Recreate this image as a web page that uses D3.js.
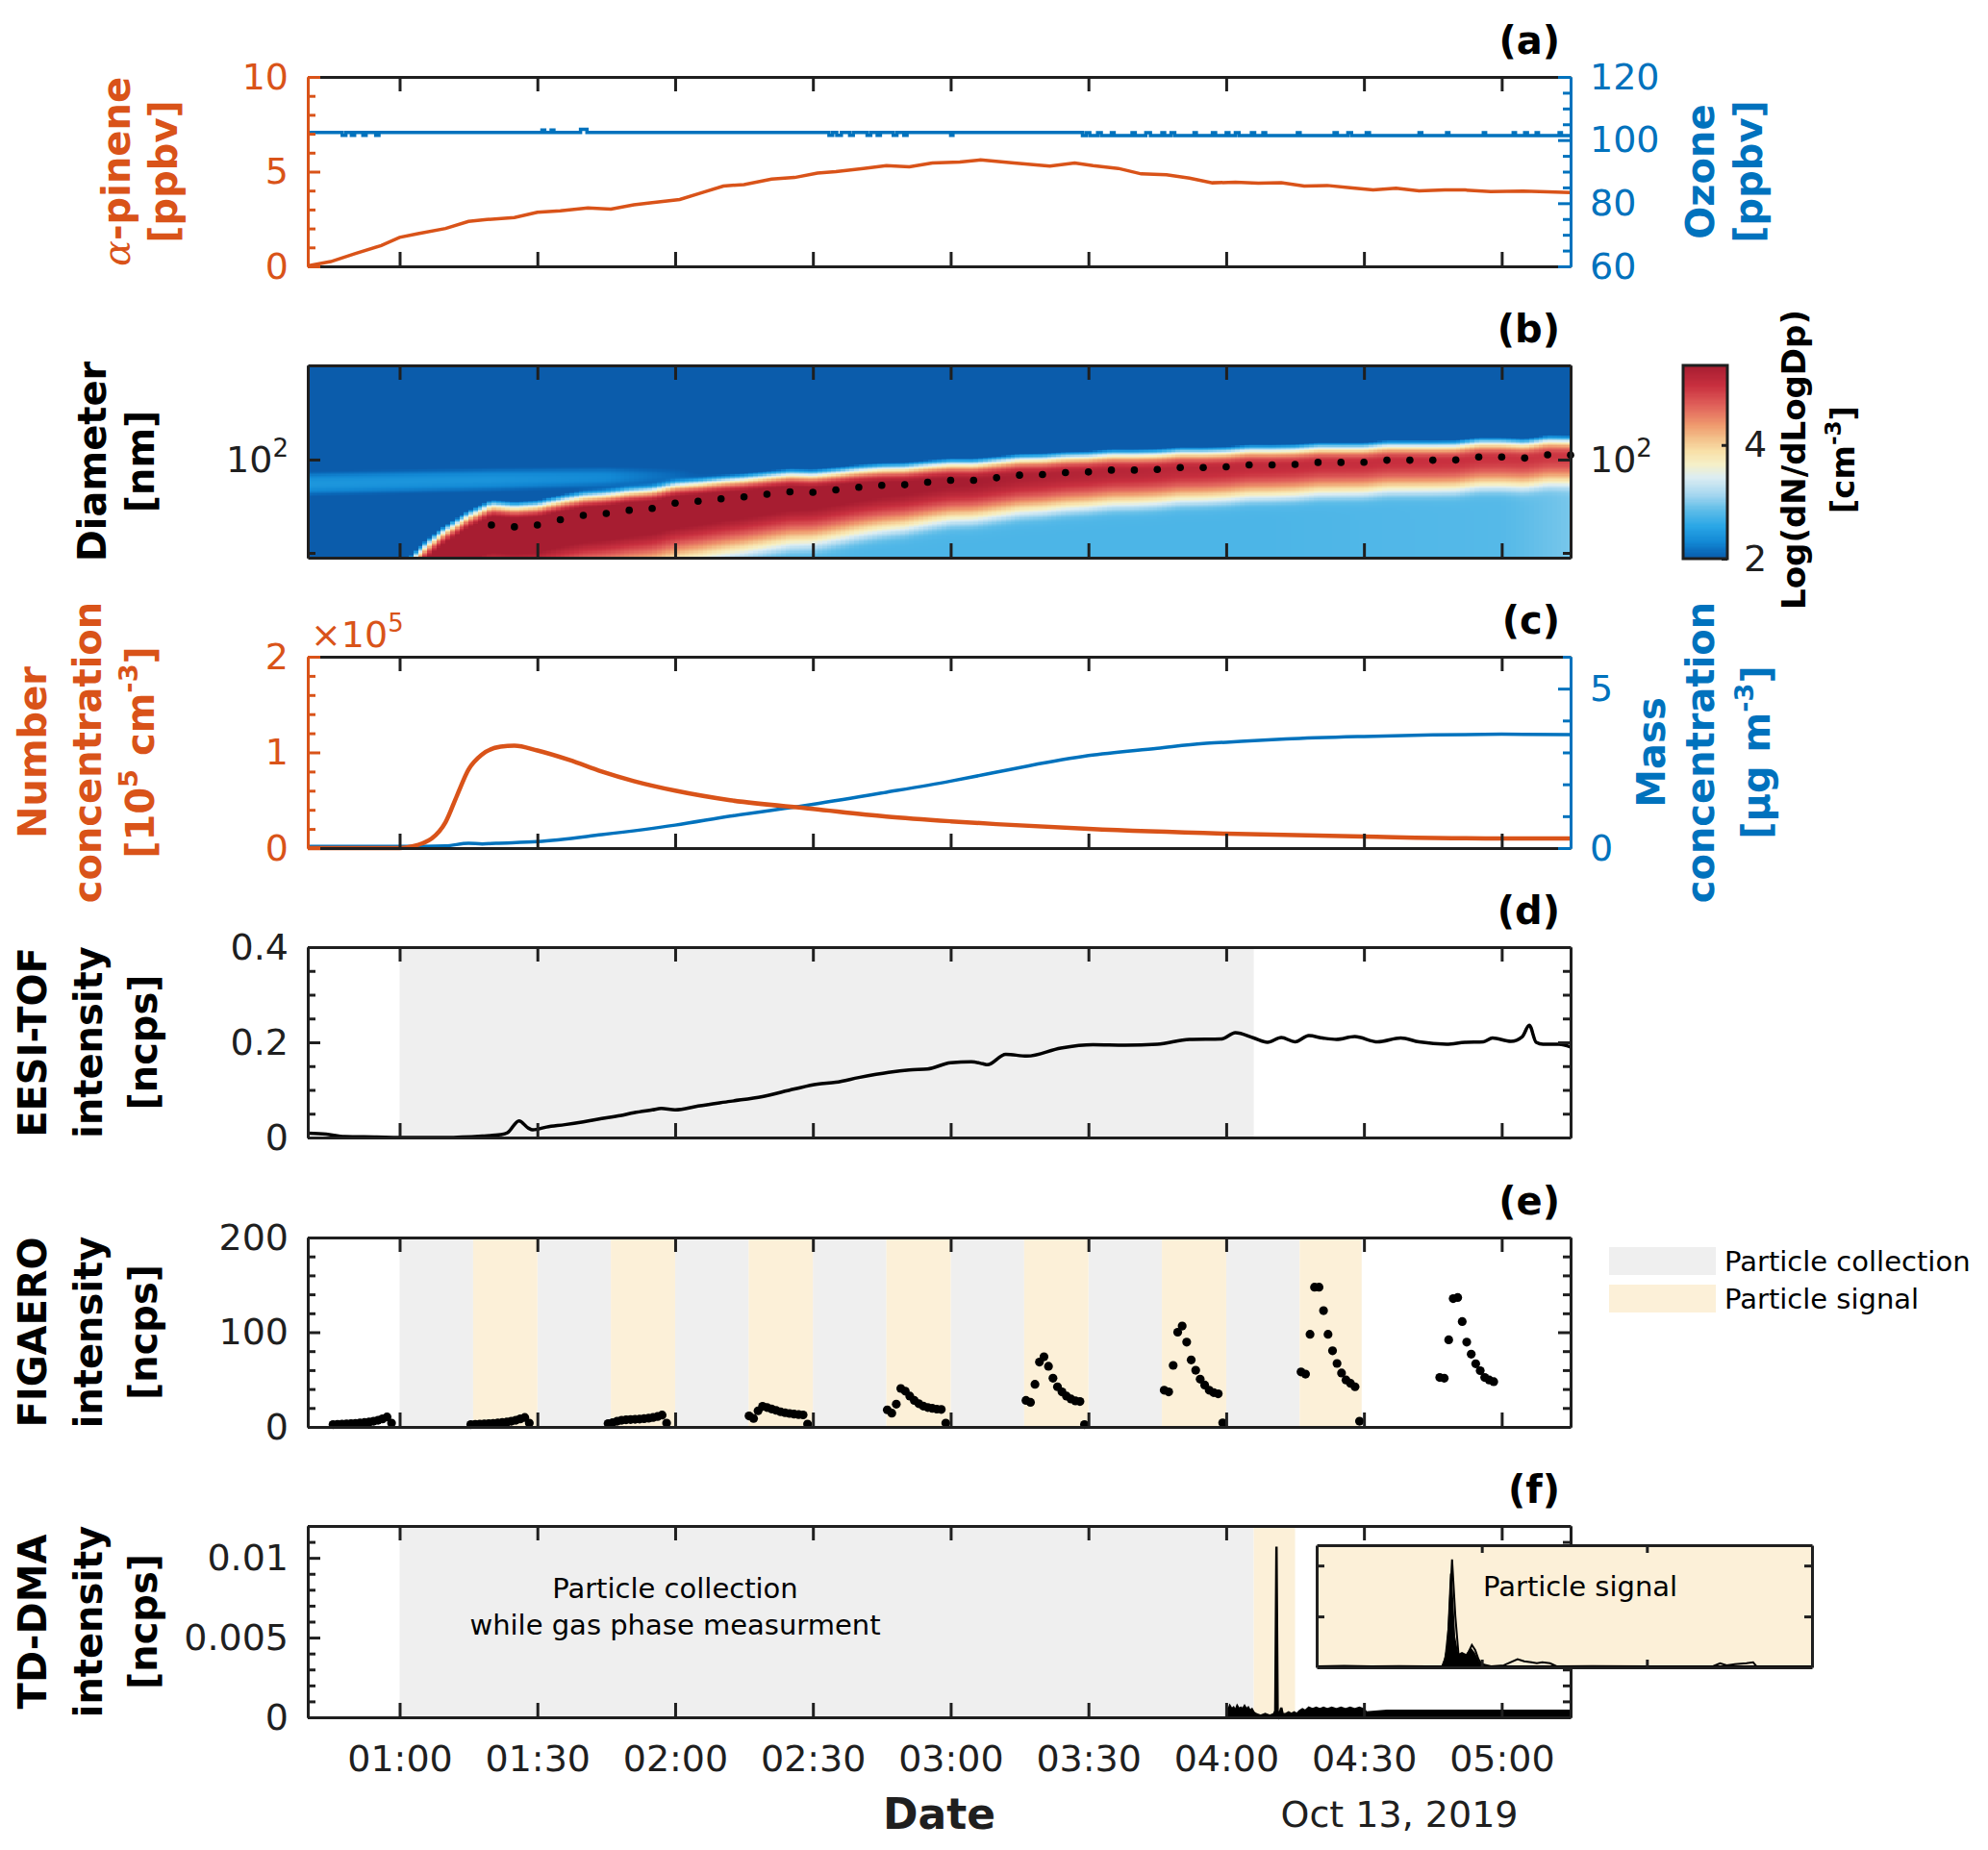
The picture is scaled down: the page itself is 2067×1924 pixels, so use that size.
<!DOCTYPE html>
<html>
<head>
<meta charset="utf-8">
<script src="https://cdn.jsdelivr.net/npm/d3@7"></script>
<style>
  body { margin: 0; background: #fff; }
  svg { display: block; }
</style>
</head>
<body>
<script>
// all times are minutes after midnight, 13 Oct 2019

// (a) alpha-pinene [ppbv] and ozone [ppbv]
const apinene = [[40,0.03],[45,0.25],[50.4,0.68],[56,1.1],[60,1.53],[64,1.73],[70,2.0],[75,2.37],[79,2.47],[85,2.58],
  [90,2.85],[95,2.93],[101,3.08],[106,3.02],[111,3.25],[115,3.36],[121,3.53],[126,3.9],[130.5,4.24],[135,4.32],
  [141,4.61],[146,4.69],[151,4.92],[155,5.0],[161,5.17],[166,5.32],[171,5.25],[176,5.46],[182,5.51],[186.5,5.62],
  [193.8,5.46],[201.6,5.29],[207,5.46],[211,5.32],[216.5,5.17],[221.5,4.88],[227,4.83],[232,4.66],[237,4.41],[242,4.44],
  [247,4.39],[252,4.42],[257,4.24],[262,4.27],[267,4.15],[272,4.03],[277,4.12],[282,3.98],[287.6,4.03],[292,4.03],
  [297.6,3.95],[304.7,3.97],[310,3.93],[315,3.9]];
const ozone = [[40,102.4],[47.5,101.5],[48.3,102.4],[49.5,101.5],[50.2,102.4],[52,101.5],[52.7,102.4],[54.8,101.5],[55.5,102.4],
  [91,103.2],[91.6,102.4],[93,103.2],[93.6,102.4],[99.4,103.4],[100.8,102.4],
  [153.5,101.5],[154.3,102.4],[155.2,101.5],[156.2,102.4],[158,101.5],[158.8,102.4],[161.8,101.5],[162.6,102.4],
  [164,101.5],[164.7,102.4],[167.5,101.5],[168.3,102.4],[169.8,101.5],[170.5,102.4],[180,101.5],[180.5,102.4],
  [208.7,101.4],[209.5,102.3],[210.3,101.4],[212,102.3],[212.8,101.4],[215,102.3],[215.6,101.4],[219.5,102.3],
  [220.2,101.4],[222.5,102.3],[223.5,101.4],[226,102.3],[226.6,101.4],[228,102.3],[228.8,101.4],[233,102.3],
  [233.5,101.4],[237,102.3],[237.7,101.4],[240,102.3],[240.6,101.4],[242,102.3],[242.8,101.4],[245.5,102.3],
  [246.2,101.4],[248,102.3],[248.6,101.4],[255.5,102.3],[256.1,101.4],[263.5,102.3],[264.2,101.4],[266.5,102.3],
  [267.3,101.4],[270.5,102.3],[271.2,101.4],[282,102.3],[282.6,101.4],[288,102.3],[288.5,101.4],[296,102.3],
  [296.5,101.4],[302.5,102.3],[303,101.4],[305,102.3],[305.6,101.4],[307.5,102.3],[308,101.4],[312.5,102.3],
  [313,101.4],[315,101.4]];

const modeDots = [[80,43.0],[85,42.0],[90,43.0],[95,46.0],[100,48.7],[105,49.9],[110,52.0],[115,53.3],[120,57.0],
  [125,58.4],[130,60.3],[135,61.8],[140,63.9],[145,66.0],[150,65.5],[155,67.6],[160,70.0],[165,71.7],[170,72.3],
  [175,74.7],[180,76.6],[185,76.6],[190,79.1],[195,81.8],[200,82.4],[205,84.5],[210,85.2],[215,87.3],[220,87.3],
  [225,88.0],[230,90.2],[235,90.2],[240,91.0],[245,93.3],[250,93.3],[255,94.0],[260,96.4],[265,96.4],[270,96.5],
  [275,99.2],[280,99.2],[285,99.2],[290,99.5],[295,103.4],[300,103.4],[305,102.0],[310,106.4],[315,106.0]];
const bandLead = [[58,19],[62,21],[66,26],[70,31],[75,37.5]];           // band centre before first marker [nm]
const bandPeak = [[57,1.0],[60,4.0],[63,5.4],[68,5.8],[80,5.9],[110,5.85],[140,5.7],[170,5.5],[200,5.3],
  [230,5.18],[260,5.1],[290,5.05],[315,5.0]];                            // log10 dN/dlogDp at band core
const bandLowWidth = [[60,0.09],[90,0.1],[120,0.1],[150,0.088],[180,0.072],[210,0.066],[240,0.062],[270,0.06],[315,0.058]];
const bandUpWidth = [[60,0.035],[120,0.032],[315,0.03]];
const smallModeLevel = [[95,1.0],[110,2.2],[125,2.6],[150,2.75],[250,2.75],[300,2.8],[315,2.95]];
const faintLevel = [[40,2.38],[80,2.35],[105,2.25],[120,2.0],[135,1.5]];
const faintCentre = [[40,74],[150,85]];
const psdBackground = 1.5;
const cbarStops = [2.0,2.1,2.3,2.58,2.86,3.15,3.44,3.67,3.9,4.13,4.36,4.71,5.05,5.4];
const cbarColors = ['#0b5cab','#0a66b6','#1288d4','#29a6e6','#5cbce8','#a8d8f0','#dcedf2','#f5f0c8',
  '#f8e0a8','#f3c08a','#ef9a6e','#e0605a','#c9303f','#a71d31'];

// (c) number concentration [1e5 cm-3] and mass concentration [ug m-3]
const numberConc = [[40,0],[60,0],[63,0.02],[65,0.05],[67,0.1],[70,0.27],[72.5,0.55],[75,0.82],[78,0.98],[82,1.06],
  [85,1.07],[90,1.02],[97,0.92],[104,0.8],[111,0.7],[120,0.6],[132,0.5],[150,0.41],[166,0.33],[180,0.28],
  [190,0.25],[210,0.2],[240,0.15],[270,0.12],[300,0.1],[315,0.1]];
const massConc = [[40,0.05],[60,0.05],[70,0.07],[75,0.15],[78,0.13],[81,0.15],[90,0.2],[104,0.42],[120,0.72],
  [132,1.0],[150,1.37],[166,1.75],[180,2.1],[190,2.38],[197,2.58],[210,2.9],[225,3.13],[235,3.28],[240,3.32],
  [253,3.42],[270,3.5],[285,3.55],[300,3.57],[315,3.56]];

// (d) EESI-TOF intensity [ncps]
const eesi = [[40,0.009],[44,0.007],[48,0.002],[55,0.001],[60,0],[70,0],[78,0.003],[82,0.006],[83.5,0.01],[86,0.035],
  [88,0.02],[89,0.016],[92,0.022],[96,0.027],[100,0.033],[104,0.04],[108,0.046],[111,0.052],[115,0.058],[117,0.061],
  [120,0.058],[125,0.066],[132,0.076],[139,0.086],[146,0.102],[151,0.112],[155,0.116],[160,0.126],[166.5,0.137],
  [171,0.142],[175,0.144],[180,0.157],[184.5,0.159],[187,0.155],[188,0.153],[192,0.175],[196.6,0.171],[204,0.188],
  [211,0.195],[218,0.194],[225,0.196],[232,0.206],[239,0.207],[242,0.22],[246,0.209],[249,0.2],[252,0.21],
  [255,0.201],[258,0.214],[261,0.209],[264,0.206],[268,0.212],[273,0.201],[278,0.209],[282,0.201],[288,0.196],
  [292,0.2],[296,0.201],[298,0.209],[302,0.202],[304.5,0.212],[306,0.236],[307.5,0.2],[309,0.196],[312.5,0.196],[315,0.19]];
const eesiCollection = [[60,246]];

// (e) FIGAERO intensity [ncps], one reading per ~1 min in each desorption
const figStep = 0.98;
const figStart = [45.5, 75.5, 105.4, 136.1, 166.2, 196.4, 226.5, 256.3, 286.5];
const figValues = [
  [2.5,2.7,3,3.2,3.5,3.8,4.2,4.6,5.2,6,7,8.5,10.5,4],
  [2.5,2.7,3,3.2,3.5,3.8,4.2,4.6,5.2,6,7,8.5,10,4],
  [3.5,4.5,6,7,7.5,7.8,8,8.3,8.7,9.2,10,11,12.5,4],
  [11.6,9,17,21.7,20.5,19,17.5,16,15,14.2,13.5,13,12.7,3],
  [18,14.5,24,40.6,37.7,32.6,28,24.5,22,20.5,19.6,18.8,18.5,4],
  [28,26,45,68.5,74,64,51.4,42.4,37,32.6,29.5,27.5,26.8,2.5],
  [38.8,37,65,100,106.5,89.5,70.7,59.8,50.4,44.2,38.8,36.2,35,4.3],
  [58,55.8,97.8,147.5,147.5,122.8,97.8,80.4,67,56.9,49.6,46,42.4,6],
  [52.2,51.4,92,135.5,136.6,111.2,89.5,76.8,66.7,59.4,52.2,49.6,47.8]];
const figCollection = [[60,76],[90,106],[120,136],[150,166],[180,196],[210,226],[240,256]];
const figSignal = [[76,90],[106,120],[136,150],[166,180],[196,210],[226,240],[256,269.5]];
const legendItems = ['Particle collection', 'Particle signal'];

// (f) TD-DMA intensity [ncps]
const tdCollection = [[60,246]];
const tdSignal = [[246,255]];
const tdDma = [[240,0.0006],[240.4,0.0004],[240.8,0.0007],[241.2,0.0005],[241.6,0.0006],[242,0.0004],[242.4,0.0007],
  [242.8,0.0005],[243.2,0.0006],[243.6,0.0005],[244,0.0007],[244.4,0.0005],[244.8,0.0006],[245.2,0.0004],[245.6,0.0005],
  [246,0.0003],[246.5,0.0002],[247.5,0.0001],[248.5,0.0002],[249.5,0.0001],[250.4,0.0002],[250.7,0.0004],[250.95,0.0107],
  [251.2,0.0004],[251.5,0.0001],[252,0.0006],[252.3,0.0002],[253,0.0002],[253.6,0.0003],[254.2,0.0002],[254.8,0.0003],
  [255.4,0.0002],[256,0.0004],[256.6,0.0005],[257.2,0.0004],[258,0.0006],[258.8,0.0005],[259.6,0.0006],[260.4,0.0005],
  [261.2,0.0006],[262,0.0005],[263,0.0006],[264,0.0005],[265,0.0006],[266,0.0005],[267,0.0006],[268,0.0005],
  [269,0.0006],[270,0.0005],[270.5,0.0003],[275,0.0004],[285,0.0004],[295,0.0004],[305,0.0004],[315,0.0004]];
// inset: zoom on the desorption signal (minutes into the signal window)
const insetTraceA = [[0,0.0001],[0.5,0.00015],[1,0.0001],[1.5,0.00012],[2,0.0001],[2.28,0.0001],[2.34,0.0009],
  [2.40,0.004],[2.46,0.0106],[2.52,0.005],[2.58,0.0011],[2.64,0.0007],[2.7,0.0009],[2.76,0.0015],[2.82,0.0022],
  [2.88,0.0017],[2.94,0.0008],[3.0,0.0003],[3.17,0.0001],[3.4,0.0002],[3.65,0.0008],[3.77,0.0006],[3.9,0.0005],
  [4.0,0.0004],[4.1,0.0005],[4.24,0.0004],[4.36,0.0001],[5,0.00012],[6,0.0001],[7.2,0.0001],[7.33,0.0004],
  [7.45,0.0002],[7.6,0.0003],[7.81,0.0004],[7.93,0.0005],[7.99,0.0001],[8.5,0.0001],[9,0.0001]];
const insetTraceB = [[0,0.0001],[2.3,0.0001],[2.38,0.002],[2.44,0.0092],[2.5,0.003],[2.56,0.0012],[2.64,0.0014],
  [2.72,0.0012],[2.8,0.0018],[2.86,0.0014],[2.95,0.0004],[3.1,0.0001],[9,0.0001]];

// ---- layout ----
const ORANGE = '#D95319', BLUE = '#0072BD', INK = '#1f1f1f', GREY = '#efefef', CREAM = '#fcf0d8';
const FONT = '"DejaVu Sans", Verdana, sans-serif';
const X0 = 320, X1 = 1633;
const P = { a: [80, 277], b: [380, 580], c: [683, 882], d: [985, 1183], e: [1287, 1484], f: [1587, 1786] };

const svg = d3.select('body').append('svg').attr('width', 2067).attr('height', 1924)
  .style('font-family', FONT);

const T = m => new Date(Date.UTC(2019, 9, 13) + m * 60000);
const x = d3.scaleUtc().domain([T(40), T(315)]).range([X0, X1]);
const timeTicks = x.ticks(d3.utcMinute.every(30));
const range = (a, b, s) => d3.range(a, b + s / 2, s).map(v => +v.toFixed(6));

function rich(t, parts, size) {
  if (typeof parts === 'string') parts = [[parts]];
  let shift = 0;
  parts.forEach(([s, kind]) => {
    const ts = t.append('tspan').text(s);
    const want = kind === 'sup' ? -0.42 * size : 0;
    if (want !== shift) { ts.attr('dy', want - shift); shift = want; }
    if (kind === 'sup') ts.attr('font-size', size * 0.68);
    if (kind === 'it') ts.attr('font-family', '"DejaVu Serif", serif').attr('font-style', 'italic').attr('font-weight', 'normal');
  });
}

function yLabel(lines, cy, color, size = 40) {
  lines.forEach(([bx, parts]) => {
    const t = svg.append('text').attr('transform', `translate(${bx},${cy}) rotate(-90)`)
      .attr('text-anchor', 'middle').attr('font-weight', 'bold').attr('font-size', size).attr('fill', color);
    rich(t, parts, size);
  });
}

function timeFrame(top, bottom, withLabels) {
  const gb = svg.append('g').attr('transform', `translate(0,${bottom})`)
    .call(d3.axisBottom(x).tickValues(timeTicks).tickSizeInner(-15).tickSizeOuter(0).tickPadding(29)
      .tickFormat(withLabels ? d3.utcFormat('%H:%M') : () => ''));
  const gt = svg.append('g').attr('transform', `translate(0,${top})`)
    .call(d3.axisTop(x).tickValues(timeTicks).tickSizeInner(-15).tickSizeOuter(0).tickFormat(() => ''));
  [gb, gt].forEach(g => {
    g.selectAll('path, line').attr('stroke', INK).attr('stroke-width', 3);
    g.selectAll('text').attr('font-size', 38).attr('font-family', FONT).attr('fill', INK);
  });
}

function yAxis(scale, xpos, side, majors, minors, color, fmt) {
  const mk = side === 'left' ? d3.axisLeft : d3.axisRight;
  const g = svg.append('g').attr('transform', `translate(${xpos},0)`);
  if (minors.length) g.append('g').call(mk(scale).tickValues(minors).tickSizeInner(-8).tickSizeOuter(0).tickFormat(() => ''));
  g.append('g').call(mk(scale).tickValues(majors).tickSizeInner(-13).tickSizeOuter(0).tickPadding(20)
    .tickFormat(fmt || (() => '')));
  g.selectAll('path, line').attr('stroke', color).attr('stroke-width', 3);
  g.selectAll('text').attr('font-size', 38).attr('font-family', FONT).attr('fill', color);
  return g;
}

function panelTag(tag, top) {
  svg.append('text').attr('x', 1622).attr('y', top - 24).attr('text-anchor', 'end')
    .attr('font-size', 40).attr('font-weight', 'bold').attr('fill', '#000').text(tag);
}

function shade(spans, y, fill) {
  svg.append('g').selectAll('rect').data(spans).join('rect')
    .attr('x', d => x(T(d[0]))).attr('width', d => x(T(d[1])) - x(T(d[0])))
    .attr('y', y.range()[1]).attr('height', y.range()[0] - y.range()[1]).attr('fill', fill);
}

const fmtNum = d => String(d);

// ---------- (a) ----------
const yA = d3.scaleLinear().domain([0, 10]).range(P.a.slice().reverse());
const yO = d3.scaleLinear().domain([60, 120]).range(P.a.slice().reverse());
svg.append('path').datum(ozone).attr('fill', 'none').attr('stroke', BLUE).attr('stroke-width', 3.5)
  .attr('d', d3.line().curve(d3.curveStepAfter).x(d => x(T(d[0]))).y(d => yO(d[1])));
svg.append('path').datum(apinene).attr('fill', 'none').attr('stroke', ORANGE).attr('stroke-width', 3.5)
  .attr('d', d3.line().x(d => x(T(d[0]))).y(d => yA(d[1])));
timeFrame(P.a[0], P.a[1], false);
yAxis(yA, X0, 'left', [0, 5, 10], range(1, 9, 1).filter(v => v !== 5), ORANGE, fmtNum);
yAxis(yO, X1, 'right', [60, 80, 100, 120], range(65, 115, 5).filter(v => v % 20 !== 0), BLUE, fmtNum);
yLabel([[135, [['α', 'it'], ['-pinene']]], [184, '[ppbv]']], (P.a[0] + P.a[1]) / 2, ORANGE);
yLabel([[1782, 'Ozone'], [1832, '[ppbv]']], (P.a[0] + P.a[1]) / 2, BLUE);
panelTag('(a)', P.a[0]);

// ---------- (b) ----------
const yB = d3.scaleLog().domain([28.2, 337]).range(P.b.slice().reverse());
const color = d3.scaleLinear().domain(cbarStops).range(cbarColors).clamp(true);
const lin = arr => d3.scaleLinear().domain(arr.map(d => d[0])).range(arr.map(d => d[1])).clamp(true);
const modeAll = bandLead.concat(modeDots);
const modeLog = d3.scaleLinear().domain(modeAll.map(d => d[0])).range(modeAll.map(d => Math.log10(d[1]))).clamp(true);
const peakAt = lin(bandPeak), lowWAt = lin(bandLowWidth), upWAt = lin(bandUpWidth);
const smallAt = lin(smallModeLevel), faintAt = lin(faintLevel);
const faintCAt = d3.scaleLinear().domain(faintCentre.map(d => d[0])).range(faintCentre.map(d => Math.log10(d[1]))).clamp(true);

function psdValue(tm, ld) {
  const mu = modeLog(tm);
  const s = ld >= mu ? upWAt(tm) : lowWAt(tm);
  const band = Math.pow(10, peakAt(tm) - 0.4343 * (ld - mu) ** 2 / (2 * s * s));
  const lowF = ld < mu ? 1 : Math.exp(-((ld - mu) ** 2) / (2 * 0.02 * 0.02));
  const small = Math.pow(10, smallAt(tm)) * lowF;
  const fc = faintCAt(tm);
  const faint = Math.pow(10, faintAt(tm) - 0.4343 * (ld - fc) ** 2 / (2 * 0.045 * 0.045));
  return Math.log10(band + small + faint + Math.pow(10, psdBackground));
}

const [lgMin, lgMax] = yB.domain().map(Math.log10);
const nRows = 160, dl = (lgMax - lgMin) / nRows;
const cells = [];
for (let i = 0; i < 275; i++) {
  for (let j = 0; j < nRows; j++) {
    cells.push({ t0: 40 + i, l0: lgMin + j * dl, v: psdValue(40 + i + 0.5, lgMin + (j + 0.5) * dl) });
  }
}
svg.append('clipPath').attr('id', 'clipB').append('rect')
  .attr('x', X0).attr('y', P.b[0]).attr('width', X1 - X0).attr('height', P.b[1] - P.b[0]);
svg.append('g').attr('clip-path', 'url(#clipB)').attr('shape-rendering', 'crispEdges')
  .selectAll('rect').data(cells).join('rect')
  .attr('x', d => x(T(d.t0))).attr('width', d => x(T(d.t0 + 1)) - x(T(d.t0)) + 0.8)
  .attr('y', d => yB(Math.pow(10, d.l0 + dl)))
  .attr('height', d => yB(Math.pow(10, d.l0)) - yB(Math.pow(10, d.l0 + dl)) + 0.8)
  .attr('fill', d => color(d.v));
svg.append('g').selectAll('circle').data(modeDots).join('circle')
  .attr('cx', d => x(T(d[0]))).attr('cy', d => yB(d[1])).attr('r', 3.8).attr('fill', '#000');
timeFrame(P.b[0], P.b[1], false);
[[X0, 'left'], [X1, 'right']].forEach(([xp, side]) => {
  const g = yAxis(yB, xp, side, [100], [30], INK, () => '10');
  g.selectAll('.tick text').filter(d => d === 100).append('tspan').attr('dy', -16).attr('font-size', 26).text('2');
});
yLabel([[110, 'Diameter'], [160, '[nm]']], (P.b[0] + P.b[1]) / 2, '#000');
panelTag('(b)', P.b[0]);

// colour bar
const yC = d3.scaleLinear().domain([2, 5.4]).range([581, 380]);
const cbSteps = d3.range(0, 170).map(k => 2 + k * 3.4 / 170);
svg.append('g').attr('shape-rendering', 'crispEdges').selectAll('rect').data(cbSteps).join('rect')
  .attr('x', 1750).attr('width', 46).attr('y', d => yC(d + 3.4 / 170)).attr('height', d => yC(d) - yC(d + 3.4 / 170) + 0.8)
  .attr('fill', d => color(d + 1.7 / 170));
svg.append('rect').attr('x', 1750).attr('y', 380).attr('width', 46).attr('height', 201)
  .attr('fill', 'none').attr('stroke', INK).attr('stroke-width', 3);
const cbAx = svg.append('g').attr('transform', 'translate(1796,0)')
  .call(d3.axisRight(yC).tickValues([2, 4]).tickSizeInner(-6).tickSizeOuter(0).tickPadding(17).tickFormat(fmtNum));
cbAx.select('.domain').remove();
cbAx.selectAll('line').attr('stroke', INK).attr('stroke-width', 3);
cbAx.selectAll('text').attr('font-size', 38).attr('font-family', FONT).attr('fill', INK);
yLabel([[1877, 'Log(dN/dLogDp)'], [1928, [['[cm'], ['-3', 'sup'], [']']]]], 478, '#000', 34);

// ---------- (c) ----------
const yN = d3.scaleLinear().domain([0, 2]).range(P.c.slice().reverse());
const yM = d3.scaleLinear().domain([0, 6]).range(P.c.slice().reverse());
svg.append('path').datum(massConc).attr('fill', 'none').attr('stroke', BLUE).attr('stroke-width', 3.5)
  .attr('d', d3.line().curve(d3.curveMonotoneX).x(d => x(T(d[0]))).y(d => yM(d[1])));
svg.append('path').datum(numberConc).attr('fill', 'none').attr('stroke', ORANGE).attr('stroke-width', 4.5)
  .attr('d', d3.line().curve(d3.curveMonotoneX).x(d => x(T(d[0]))).y(d => yN(d[1])));
timeFrame(P.c[0], P.c[1], false);
yAxis(yN, X0, 'left', [0, 1, 2], range(0.2, 1.8, 0.2).filter(v => v !== 1), ORANGE, fmtNum);
yAxis(yM, X1, 'right', [0, 5], [1, 2, 3, 4, 6], BLUE, fmtNum);
rich(svg.append('text').attr('x', 323).attr('y', 673).attr('font-size', 38).attr('fill', ORANGE),
  [['×10'], ['5', 'sup']], 38);
yLabel([[48, 'Number'], [105, 'concentration'], [160, [['[10'], ['5', 'sup'], [' cm'], ['-3', 'sup'], [']']]]],
  (P.c[0] + P.c[1]) / 2, ORANGE);
yLabel([[1731, 'Mass'], [1782, 'concentration'], [1840, [['[µg m'], ['-3', 'sup'], [']']]]], (P.c[0] + P.c[1]) / 2, BLUE);
panelTag('(c)', P.c[0]);

// ---------- (d) ----------
const yD = d3.scaleLinear().domain([0, 0.4]).range(P.d.slice().reverse());
shade(eesiCollection, yD, GREY);
svg.append('path').datum(eesi).attr('fill', 'none').attr('stroke', '#000').attr('stroke-width', 3.5)
  .attr('d', d3.line().curve(d3.curveMonotoneX).x(d => x(T(d[0]))).y(d => yD(d[1])));
timeFrame(P.d[0], P.d[1], false);
yAxis(yD, X0, 'left', [0, 0.2, 0.4], [0.05, 0.1, 0.15, 0.25, 0.3, 0.35], INK, fmtNum);
yAxis(yD, X1, 'right', [0, 0.2, 0.4], [0.05, 0.1, 0.15, 0.25, 0.3, 0.35], INK, null);
yLabel([[48, 'EESI-TOF'], [106, 'intensity'], [163, '[ncps]']], (P.d[0] + P.d[1]) / 2, '#000');
panelTag('(d)', P.d[0]);

// ---------- (e) ----------
const yE = d3.scaleLinear().domain([0, 200]).range(P.e.slice().reverse());
shade(figCollection, yE, GREY);
shade(figSignal, yE, CREAM);
const figPoints = figStart.flatMap((s, c) => figValues[c].map((v, k) => [s + k * figStep, v]));
svg.append('g').selectAll('circle').data(figPoints).join('circle')
  .attr('cx', d => x(T(d[0]))).attr('cy', d => yE(d[1])).attr('r', 4.6).attr('fill', '#000');
timeFrame(P.e[0], P.e[1], false);
const eMinor = range(20, 180, 20).filter(v => v !== 100);
yAxis(yE, X0, 'left', [0, 100, 200], eMinor, INK, fmtNum);
yAxis(yE, X1, 'right', [0, 100, 200], eMinor, INK, null);
yLabel([[48, 'FIGAERO'], [106, 'intensity'], [163, '[ncps]']], (P.e[0] + P.e[1]) / 2, '#000');
panelTag('(e)', P.e[0]);
const lg = svg.append('g').selectAll('g').data(legendItems).join('g')
  .attr('transform', (d, i) => `translate(1673,${1297 + i * 39})`);
lg.append('rect').attr('width', 111).attr('height', 29).attr('fill', (d, i) => i ? CREAM : GREY);
lg.append('text').attr('x', 120).attr('y', 25).attr('font-size', 29).attr('fill', '#000').text(d => d);

// ---------- (f) ----------
const yF = d3.scaleLinear().domain([0, 0.012]).range(P.f.slice().reverse());
shade(tdCollection, yF, GREY);
shade(tdSignal, yF, CREAM);
svg.append('path').datum(tdDma).attr('fill', '#000')
  .attr('d', d3.area().x(d => x(T(d[0]))).y0(yF(0)).y1(d => yF(d[1])));
svg.append('path').datum(tdDma).attr('fill', 'none').attr('stroke', '#000').attr('stroke-width', 2.5)
  .attr('d', d3.line().x(d => x(T(d[0]))).y(d => yF(d[1])));
timeFrame(P.f[0], P.f[1], true);
const fMinor = range(0.001, 0.012, 0.001).filter(v => v !== 0.005 && v !== 0.01);
yAxis(yF, X0, 'left', [0, 0.005, 0.01], fMinor, INK, fmtNum);
yAxis(yF, X1, 'right', [0, 0.005, 0.01], fMinor, INK, null);
yLabel([[48, 'TD-DMA'], [106, 'intensity'], [163, '[ncps]']], (P.f[0] + P.f[1]) / 2, '#000');
panelTag('(f)', P.f[0]);
svg.append('text').attr('x', 702).attr('y', 1662).attr('text-anchor', 'middle').attr('font-size', 29)
  .attr('fill', '#000').text('Particle collection');
svg.append('text').attr('x', 702).attr('y', 1700).attr('text-anchor', 'middle').attr('font-size', 29)
  .attr('fill', '#000').text('while gas phase measurment');

// inset
const xi = d3.scaleLinear().domain([0, 9]).range([1369, 1884]);
const yi = d3.scaleLinear().domain([0, 0.012]).range([1734, 1607]);
svg.append('rect').attr('x', 1369).attr('y', 1607).attr('width', 515).attr('height', 127).attr('fill', CREAM);
svg.append('path').datum(insetTraceB).attr('fill', '#000')
  .attr('d', d3.area().x(d => xi(d[0])).y0(yi(0)).y1(d => yi(d[1])));
svg.append('path').datum(insetTraceA).attr('fill', 'none').attr('stroke', '#000').attr('stroke-width', 2)
  .attr('d', d3.line().x(d => xi(d[0])).y(d => yi(d[1])));
svg.append('path').datum(insetTraceB).attr('fill', 'none').attr('stroke', '#000').attr('stroke-width', 2)
  .attr('d', d3.line().x(d => xi(d[0])).y(d => yi(d[1])));
[[d3.axisTop, 1607], [d3.axisBottom, 1734]].forEach(([mk, yy]) => {
  const g = svg.append('g').attr('transform', `translate(0,${yy})`)
    .call(mk(xi).tickValues([3, 6]).tickSizeInner(-8).tickSizeOuter(0).tickFormat(() => ''));
  g.selectAll('path, line').attr('stroke', INK).attr('stroke-width', 3);
});
[[d3.axisLeft, 1369], [d3.axisRight, 1884]].forEach(([mk, xx]) => {
  const g = svg.append('g').attr('transform', `translate(${xx},0)`)
    .call(mk(yi).tickValues([0.005, 0.01]).tickSizeInner(-8).tickSizeOuter(0).tickFormat(() => ''));
  g.selectAll('path, line').attr('stroke', INK).attr('stroke-width', 3);
});
svg.append('text').attr('x', 1542).attr('y', 1660).attr('font-size', 29).attr('fill', '#000').text('Particle signal');

// x-axis titles
svg.append('text').attr('x', (X0 + X1) / 2).attr('y', 1902).attr('text-anchor', 'middle')
  .attr('font-size', 44).attr('font-weight', 'bold').attr('fill', INK).text('Date');
svg.append('text').attr('x', 1455).attr('y', 1900).attr('text-anchor', 'middle')
  .attr('font-size', 38).attr('fill', INK).text('Oct 13, 2019');
</script>
</body>
</html>
